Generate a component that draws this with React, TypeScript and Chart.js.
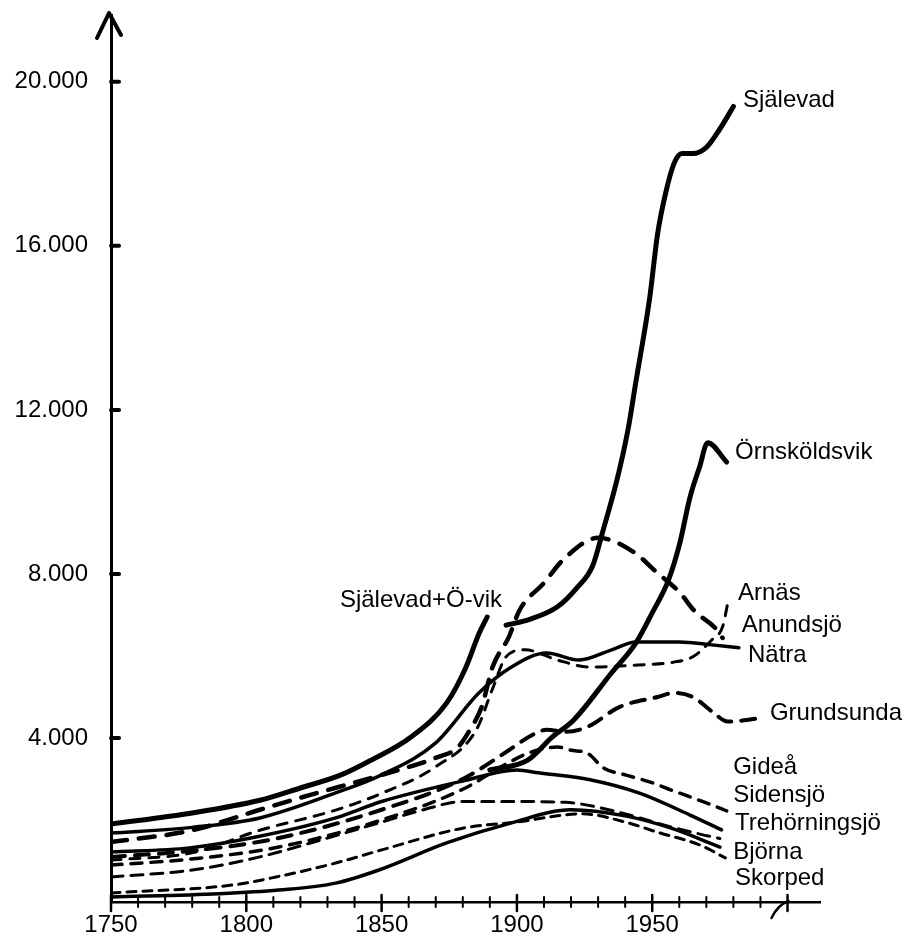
import React, { useEffect, useRef } from 'react';
import { Chart, registerables } from 'chart.js';

Chart.register(...registerables);

const FONT = '"Liberation Sans", Arial, Helvetica, sans-serif';

// ---- axis ticks ----
const xTickYears = [1750, 1760, 1770, 1780, 1790, 1800, 1810, 1820, 1830, 1840, 1850, 1860, 1870, 1880, 1890, 1900, 1910, 1920, 1930, 1940, 1950, 1960, 1970, 1980, 1990, 2000];
const xLabelYears = [1750, 1800, 1850, 1900, 1950];
const yTickValues = [4000, 8000, 12000, 16000, 20000];
const yTickLabels = ['4.000', '8.000', '12.000', '16.000', '20.000'];

// ---- series data (year, population) ----
const sjalevadOvikYears = [1750, 1780, 1805, 1820, 1835, 1845, 1861, 1874, 1881, 1886, 1889];
const sjalevadOvikValues = [1900, 2170, 2480, 2780, 3100, 3420, 4030, 4850, 5700, 6550, 6950];

const sjalevadYears = [1896, 1905, 1915, 1922, 1928, 1932, 1937, 1941, 1944, 1949, 1952, 1955, 1958, 1961, 1965, 1970, 1975, 1980];
const sjalevadValues = [6750, 6900, 7200, 7650, 8200, 9100, 10300, 11500, 12700, 14700, 16300, 17300, 18000, 18250, 18250, 18400, 18850, 19400];

const ovikYears = [1890, 1904, 1913, 1921, 1935, 1944, 1950, 1956, 1960, 1964, 1967.5, 1970.5, 1977.5];
const ovikValues = [3220, 3460, 4020, 4440, 5590, 6320, 7050, 7850, 8700, 9880, 10610, 11200, 10730];

const anundsjoYears = [1750, 1780, 1805, 1823, 1850, 1871, 1878, 1883, 1887, 1891, 1897, 1901, 1910, 1917, 1930, 1943, 1952, 1960, 1966, 1973, 1976];
const anundsjoValues = [1460, 1750, 2250, 2600, 3100, 3540, 3760, 4240, 4760, 5730, 6460, 7120, 7780, 8340, 8880, 8540, 8020, 7560, 7070, 6700, 6440];

const natraYears = [1750, 1780, 1805, 1833, 1850, 1870, 1886, 1898, 1911, 1923, 1935, 1944, 1960, 1972, 1982];
const natraValues = [1680, 1820, 2050, 2660, 3100, 3880, 5100, 5730, 6070, 5900, 6150, 6340, 6340, 6270, 6200];

const arnasYears = [1750, 1780, 1805, 1833, 1850, 1870, 1885, 1891, 1896, 1903, 1915, 1927, 1945, 1958, 1965, 1972, 1976, 1978];
const arnasValues = [1020, 1200, 1750, 2240, 2650, 3300, 4200, 5200, 5980, 6150, 5900, 5730, 5780, 5850, 5980, 6390, 6710, 7320];

const grundsundaYears = [1750, 1780, 1812, 1850, 1880, 1897, 1905, 1911, 1918, 1926, 1938, 1952, 1958, 1965, 1972, 1978, 1984, 1990];
const grundsundaValues = [1100, 1250, 1560, 2250, 3000, 3700, 4050, 4200, 4150, 4270, 4760, 5000, 5100, 5000, 4650, 4400, 4430, 4490];

const gideaYears = [1750, 1780, 1812, 1850, 1880, 1897, 1905, 1915, 1920, 1926, 1932, 1940, 1949, 1957, 1967, 1975, 1977.5];
const gideaValues = [900, 1050, 1340, 2000, 2750, 3400, 3650, 3780, 3700, 3630, 3270, 3100, 2930, 2730, 2490, 2290, 2220];

const sidensjoYears = [1750, 1779, 1804, 1833, 1850, 1880, 1900, 1908, 1927, 1945, 1964, 1975.6];
const sidensjoValues = [1220, 1320, 1590, 2050, 2450, 2950, 3220, 3150, 2980, 2660, 2120, 1760];

const trehorningsjoYears = [1750, 1780, 1805, 1830, 1850, 1865, 1880, 1900, 1918, 1937, 1957, 1968, 1975];
const trehorningsjoValues = [610, 780, 1100, 1560, 1950, 2240, 2450, 2450, 2430, 2200, 1830, 1650, 1550];

const bjornaYears = [1750, 1790, 1812, 1833, 1849, 1874, 1898, 1920, 1940, 1957, 1975];
const bjornaValues = [120, 200, 290, 460, 780, 1440, 1930, 2250, 2100, 1800, 1340];

const skorpedYears = [1750, 1795, 1811, 1833, 1850, 1880, 1900, 1924, 1940, 1952, 1968, 1977];
const skorpedValues = [220, 415, 610, 950, 1270, 1800, 1950, 2150, 1950, 1700, 1380, 1075];

// ---- series styles ----
const seriesDefs = [
  { label: 'Själevad+Ö-vik', years: sjalevadOvikYears, values: sjalevadOvikValues, width: 5, dash: [] as number[] },
  { label: 'Själevad', years: sjalevadYears, values: sjalevadValues, width: 5, dash: [] as number[] },
  { label: 'Örnsköldsvik', years: ovikYears, values: ovikValues, width: 5, dash: [] as number[] },
  { label: 'Anundsjö', years: anundsjoYears, values: anundsjoValues, width: 4.5, dash: [16, 12] },
  { label: 'Nätra', years: natraYears, values: natraValues, width: 3.5, dash: [] as number[] },
  { label: 'Arnäs', years: arnasYears, values: arnasValues, width: 3, dash: [10, 9] },
  { label: 'Grundsunda', years: grundsundaYears, values: grundsundaValues, width: 4, dash: [14, 10] },
  { label: 'Gideå', years: gideaYears, values: gideaValues, width: 3.5, dash: [11, 9] },
  { label: 'Sidensjö', years: sidensjoYears, values: sidensjoValues, width: 3.5, dash: [] as number[] },
  { label: 'Trehörningsjö', years: trehorningsjoYears, values: trehorningsjoValues, width: 3, dash: [12, 8] },
  { label: 'Björna', years: bjornaYears, values: bjornaValues, width: 3.5, dash: [] as number[] },
  { label: 'Skorped', years: skorpedYears, values: skorpedValues, width: 3, dash: [9, 7] },
];

// ---- end labels, anchored in data coordinates ----
const endLabels = [
  { text: 'Själevad', year: 1983.5, value: 19560 },
  { text: 'Örnsköldsvik', year: 1980.6, value: 10975 },
  { text: 'Själevad+Ö-vik', year: 1834.6, value: 7365 },
  { text: 'Arnäs', year: 1981.7, value: 7535 },
  { text: 'Anundsjö', year: 1983.1, value: 6755 },
  { text: 'Nätra', year: 1985.4, value: 6025 },
  { text: 'Grundsunda', year: 1993.5, value: 4610 },
  { text: 'Gideå', year: 1979.9, value: 3290 },
  { text: 'Sidensjö', year: 1979.9, value: 2610 },
  { text: 'Trehörningsjö', year: 1980.6, value: 1925 },
  { text: 'Björna', year: 1979.9, value: 1220 },
  { text: 'Skorped', year: 1980.6, value: 585 },
];

const decorations = {
  id: 'decorations',
  afterDatasetsDraw(chart: any) {
    const { ctx, chartArea } = chart;
    const xs = chart.scales.x;
    const ys = chart.scales.y;
    ctx.save();
    ctx.strokeStyle = '#000';
    ctx.fillStyle = '#000';
    ctx.lineCap = 'round';

    // x tick marks crossing the axis
    xTickYears.forEach((v) => {
      const px = xs.getPixelForValue(v);
      const big = v % 50 === 0;
      ctx.lineWidth = big ? 2.5 : 2;
      ctx.beginPath();
      ctx.moveTo(px, chartArea.bottom - (big ? 7 : 5));
      ctx.lineTo(px, chartArea.bottom + (big ? 9 : 5));
      ctx.stroke();
    });

    // y tick marks (short dashes right of the axis)
    yTickValues.forEach((v) => {
      const py = ys.getPixelForValue(v);
      ctx.lineWidth = 4;
      ctx.beginPath();
      ctx.moveTo(chartArea.left, py);
      ctx.lineTo(chartArea.left + 8, py);
      ctx.stroke();
    });

    // arrow head at top of y axis
    ctx.lineWidth = 4;
    ctx.lineJoin = 'round';
    ctx.beginPath();
    ctx.moveTo(chartArea.left - 14, chartArea.top + 23);
    ctx.lineTo(chartArea.left - 2, chartArea.top - 2);
    ctx.lineTo(chartArea.left + 10, chartArea.top + 20);
    ctx.stroke();

    // hook mark near the end of the x axis
    const px2000 = xs.getPixelForValue(2000);
    ctx.lineWidth = 2.5;
    ctx.beginPath();
    ctx.moveTo(px2000 - 16, chartArea.bottom + 16);
    ctx.quadraticCurveTo(px2000 - 10, chartArea.bottom + 3, px2000 + 1, chartArea.bottom - 1);
    ctx.stroke();

    // series labels
    ctx.font = `24px ${FONT}`;
    ctx.textAlign = 'left';
    ctx.textBaseline = 'middle';
    endLabels.forEach((l) => {
      ctx.fillText(l.text, xs.getPixelForValue(l.year), ys.getPixelForValue(l.value));
    });
    ctx.restore();
  },
};

export default function App() {
  const canvasRef = useRef<HTMLCanvasElement | null>(null);

  useEffect(() => {
    const canvas = canvasRef.current;
    if (!canvas) return;
    const datasets = seriesDefs.map((s) => ({
      label: s.label,
      data: s.years.map((yr, i) => ({ x: yr, y: s.values[i] })),
      borderColor: '#000',
      backgroundColor: '#000',
      borderWidth: s.width,
      borderDash: s.dash,
      borderCapStyle: 'round' as const,
      borderJoinStyle: 'round' as const,
      pointRadius: 0,
      pointHoverRadius: 0,
      fill: false,
      cubicInterpolationMode: 'monotone' as const,
    }));

    const chart = new Chart(canvas, {
      type: 'line',
      data: { datasets },
      options: {
        responsive: false,
        maintainAspectRatio: false,
        devicePixelRatio: 1,
        animation: false,
        events: [],
        layout: { padding: { top: 15, right: 89, left: 0, bottom: 0 } },
        plugins: { legend: { display: false }, tooltip: { enabled: false }, title: { display: false } },
        scales: {
          x: {
            type: 'linear',
            min: 1750,
            max: 2012,
            afterBuildTicks: (s: any) => {
              s.ticks = xTickYears.map((v) => ({ value: v }));
            },
            afterFit: (s: any) => {
              s.height = 38;
              s.paddingLeft = 0;
              s.paddingRight = 0;
            },
            ticks: {
              autoSkip: false,
              maxRotation: 0,
              minRotation: 0,
              padding: 9,
              color: '#000',
              font: { size: 24, family: FONT },
              callback: (v: any) => (xLabelYears.includes(Number(v)) ? String(v) : ''),
            },
            grid: { display: false, drawTicks: false },
            border: { display: true, color: '#000', width: 2.5 },
          },
          y: {
            type: 'linear',
            min: 0,
            max: 21630,
            afterBuildTicks: (s: any) => {
              s.ticks = yTickValues.map((v) => ({ value: v }));
            },
            afterFit: (s: any) => {
              s.width = 111;
              s.paddingTop = 0;
              s.paddingBottom = 0;
            },
            ticks: {
              padding: 23,
              color: '#000',
              font: { size: 24, family: FONT },
              callback: (v: any) => {
                const i = yTickValues.indexOf(Number(v));
                return i >= 0 ? yTickLabels[i] : '';
              },
            },
            grid: { display: false, drawTicks: false },
            border: { display: true, color: '#000', width: 3 },
          },
        },
      },
      plugins: [decorations],
    });
    return () => chart.destroy();
  }, []);

  return (
    <div style={{ position: 'absolute', left: 0, top: 0, width: 909, height: 940, background: '#fff' }}>
      <canvas ref={canvasRef} width={909} height={940} style={{ display: 'block' }} />
    </div>
  );
}
